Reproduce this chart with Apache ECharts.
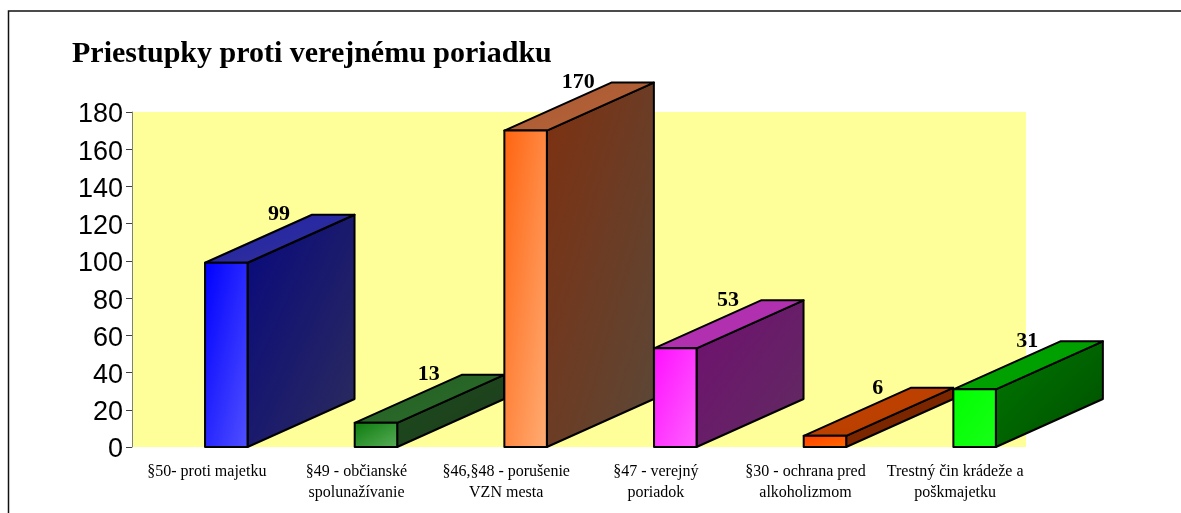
<!DOCTYPE html>
<html>
<head>
<meta charset="utf-8">
<style>
  html, body { margin: 0; padding: 0; background: #fff; }
  #chart { width: 1181px; height: 513px; }
</style>
<script src="https://cdn.jsdelivr.net/npm/echarts@6/dist/echarts.min.js"></script>
</head>
<body>
<div id="chart"></div>
<script>
// data
const categories = [
  '§50- proti majetku',
  '§49 - občianské\nspolunažívanie',
  '§46,§48 - porušenie\nVZN mesta',
  '§47 - verejný\nporiadok',
  '§30 - ochrana pred\nalkoholizmom',
  'Trestný čin krádeže a\npoškmajetku'
];
const values = [99, 13, 170, 53, 6, 31];

// colours of each box: front, side and top face, [start, end] of the gradient
const frontColors = [['#0000ff', '#5050ff'], ['#0c7c0c', '#58ac58'], ['#ff6410', '#ffac74'], ['#ff10ff', '#ff60ff'], ['#ff4000', '#ff6a00'], ['#00ff00', '#18ff18']];
const sideColors = [['#08087e', '#2c2c5c'], ['#1c4c1c', '#1e3c1e'], ['#7e3010', '#5a4838'], ['#700f70', '#602c60'], ['#7c2400', '#7c2800'], ['#007800', '#004e00']];
const topColors = [['#2020a8', '#343498'], ['#206020', '#2e6c2e'], ['#a85830', '#b8643a'], ['#b030b0', '#b030b0'], ['#c04000', '#b84000'], ['#00a000', '#00a000']];

// 3D look of the old chart: how far the box goes back
const depthX = 107;
const depthY = 48;
const boxWidth = 42.5;

// gradient whose colour lines run through the other two corners of the box
function grad(c, x, y, w, h) {
  const t = (2 * w * h) / (w * w + h * h);
  return new echarts.graphic.LinearGradient(x, y, x + t * h, y + t * w, [
    { offset: 0, color: c[0] },
    { offset: 1, color: c[1] }
  ], true);
}

function renderBox(params, api) {
  const i = api.value(0);
  const base = api.coord([i, 0]);
  const top = api.coord([i, api.value(1)]);
  const x0 = base[0] - 1.8;
  const x1 = x0 + boxWidth;
  const y0 = base[1];
  const y1 = top[1];
  const line = { stroke: '#000', lineWidth: 2, lineJoin: 'round' };
  const face = (points, fill) => ({
    type: 'polygon',
    shape: { points },
    style: Object.assign({ fill }, line)
  });
  return {
    type: 'group',
    children: [
      face([[x1, y0], [x1 + depthX, y0 - depthY], [x1 + depthX, y1 - depthY], [x1, y1]],
        grad(sideColors[i], x1, y1 - depthY, depthX, y0 - y1 + depthY)),
      face([[x0, y1], [x0 + depthX, y1 - depthY], [x1 + depthX, y1 - depthY], [x1, y1]],
        grad(topColors[i], x0, y1 - depthY, boxWidth + depthX, depthY)),
      face([[x0, y0], [x1, y0], [x1, y1], [x0, y1]],
        grad(frontColors[i], x0, y1, boxWidth, y0 - y1)),
      {
        type: 'text',
        x: x0 + 74,
        y: y1 - 48,
        style: {
          text: String(api.value(1)),
          font: 'bold 22px "Liberation Serif"',
          fill: '#000',
          align: 'center',
          verticalAlign: 'middle'
        }
      }
    ]
  };
}

const chart = echarts.init(document.getElementById('chart'));
chart.setOption({
  animation: false,
  backgroundColor: '#fff',
  title: {
    text: 'Priestupky proti verejnému poriadku',
    left: 72,
    top: 39,
    padding: 0,
    textStyle: { fontFamily: 'Liberation Serif', fontWeight: 'bold', fontSize: 30, color: '#000' }
  },
  graphic: [{
    // frame of the picture, only left and top edge are in the crop
    type: 'polyline',
    shape: { points: [[8.5, 513], [8.5, 11], [1181, 11]] },
    style: { fill: 'none', stroke: '#111', lineWidth: 1.5 },
    silent: true
  }, {
    // plot background stops before the last band ends
    type: 'rect',
    shape: { x: 132, y: 112, width: 894, height: 335 },
    style: { fill: '#ffff99' },
    silent: true,
    z: -1
  }],
  grid: { left: 132, right: 151, top: 112, bottom: 66 },
  xAxis: {
    type: 'category',
    data: categories,
    axisLine: { show: false },
    axisTick: { show: false },
    axisLabel: {
      interval: 0,
      margin: 15,
      fontFamily: 'Liberation Serif',
      fontSize: 16,
      lineHeight: 20.5,
      color: '#000'
    }
  },
  yAxis: {
    type: 'value',
    min: 0,
    max: 180,
    interval: 20,
    splitLine: { show: false },
    axisLine: { show: true, lineStyle: { color: '#808080', width: 1 } },
    axisTick: { show: true, length: 6, lineStyle: { color: '#404040', width: 1 } },
    axisLabel: {
      margin: 9,
      formatter: '{t|{value}}',
      rich: {
        t: { padding: [6, 0, 0, 0], fontFamily: 'Liberation Sans', fontSize: 27, color: '#000' }
      }
    }
  },
  series: [{
    type: 'custom',
    renderItem: renderBox,
    encode: { x: 0, y: 1 },
    data: values.map((v, i) => [i, v]),
    clip: false
  }]
});
</script>
</body>
</html>
